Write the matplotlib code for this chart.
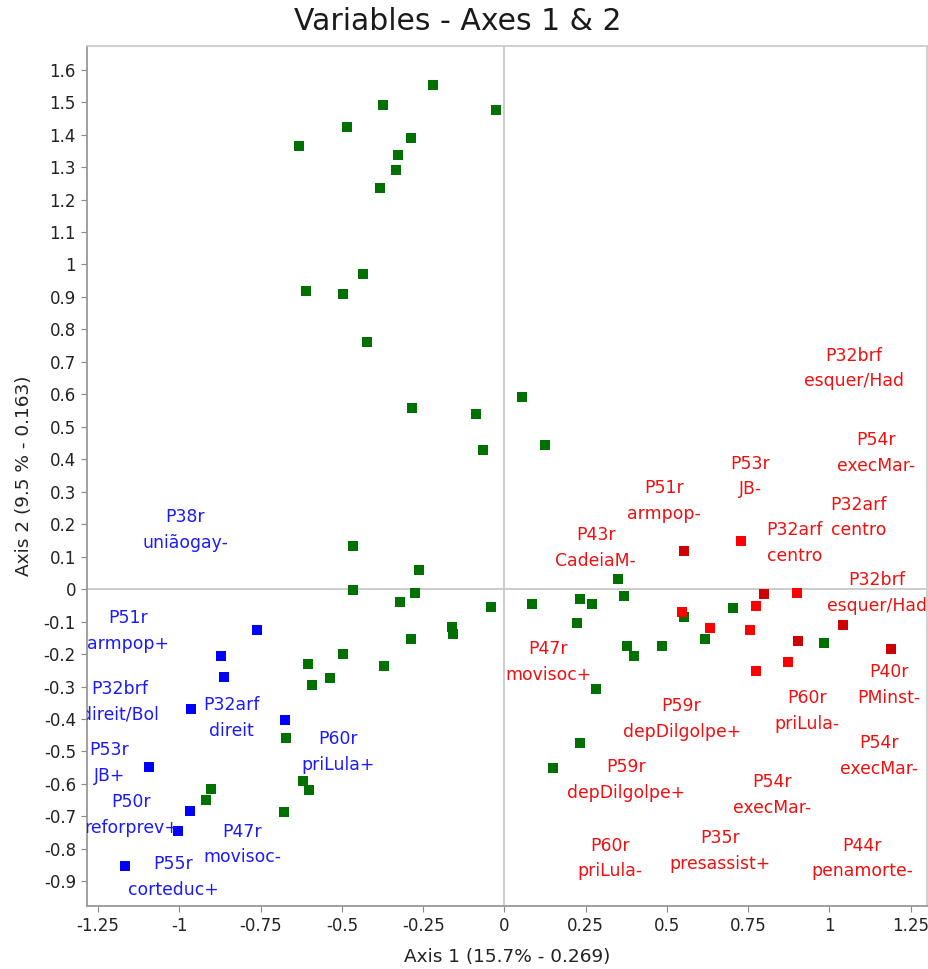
import matplotlib
matplotlib.use('Agg')
import matplotlib.pyplot as plt

# pontos verdes (variaveis sem rotulo)
verde_x = [-0.220, -0.374, -0.026, -0.483, -0.287, -0.633, -0.328, -0.333, -0.382,
           -0.435, -0.609, -0.498, -0.422, 0.054, -0.283, -0.087, -0.066, 0.126,
           -0.465, -0.263, -0.466, -0.274, -0.320, -0.162, -0.159, -0.287, -0.497,
           -0.604, -0.369, -0.537, -0.592, -0.673, -0.902, -0.919, -0.620, -0.602,
           -0.679, 0.348, -0.040, 0.086, 0.233, 0.269, 0.369, 0.223, 0.553, 0.703,
           0.377, 0.399, 0.485, 0.617, 0.982, 0.283, 0.232, 0.151]
verde_y = [1.553, 1.491, 1.477, 1.425, 1.390, 1.365, 1.337, 1.290, 1.236,
           0.972, 0.918, 0.910, 0.760, 0.591, 0.558, 0.541, 0.430, 0.443,
           0.132, 0.059, -0.003, -0.012, -0.040, -0.117, -0.139, -0.155, -0.199,
           -0.231, -0.237, -0.274, -0.294, -0.457, -0.616, -0.648, -0.591, -0.619,
           -0.686, 0.032, -0.054, -0.047, -0.029, -0.047, -0.021, -0.104, -0.087, -0.058,
           -0.176, -0.206, -0.174, -0.154, -0.166, -0.308, -0.475, -0.552]

# pontos azuis
azul_x = [-0.762, -0.873, -0.862, -0.964, -0.674, -1.092, -0.967, -1.004, -1.168]
azul_y = [-0.127, -0.206, -0.272, -0.368, -0.402, -0.549, -0.684, -0.745, -0.852]

# pontos vermelhos (escuros e claros)
verm_esc_x = [0.552, 0.799, 1.042, 0.904, 1.188]
verm_esc_y = [0.119, -0.015, -0.109, -0.160, -0.185]
verm_cla_x = [0.729, 0.901, 0.773, 0.546, 0.632, 0.755, 0.872, 0.774]
verm_cla_y = [0.147, -0.013, -0.052, -0.071, -0.121, -0.125, -0.225, -0.252]

# rotulos
rot_azul = ['P38r\nuniãogay-', 'P51r\narmpop+', 'P32brf\ndireit/Bol', 'P53r\nJB+',
            'P50r\nreforprev+', 'P55r\ncorteduc+', 'P47r\nmovisoc-', 'P32arf\ndireit',
            'P60r\npriLula+']
rot_azul_x = [-0.982, -1.159, -1.183, -1.215, -1.147, -1.018, -0.806, -0.841, -0.512]
rot_azul_y = [0.182, -0.128, -0.347, -0.535, -0.695, -0.886, -0.787, -0.397, -0.502]

rot_verm = ['P32brf\nesquer/Had', 'P54r\nexecMar-', 'P53r\nJB-', 'P51r\narmpop-',
            'P32arf\ncentro', 'P32arf\ncentro', 'P43r\nCadeiaM-', 'P32brf\nesquer/Had',
            'P47r\nmovisoc+', 'P59r\ndepDilgolpe+', 'P60r\npriLula-', 'P40r\nPMinst-',
            'P54r\nexecMar-', 'P59r\ndepDilgolpe+', 'P54r\nexecMar-', 'P60r\npriLula-',
            'P35r\npresassist+', 'P44r\npenamorte-']
rot_verm_x = [1.076, 1.142, 0.756, 0.492, 1.089, 0.892, 0.281, 1.146, 0.135, 0.545,
              0.930, 1.182, 1.154, 0.375, 0.824, 0.325, 0.663, 1.100]
rot_verm_y = [0.680, 0.419, 0.347, 0.271, 0.221, 0.143, 0.127, -0.012, -0.224, -0.401,
              -0.376, -0.296, -0.515, -0.588, -0.634, -0.830, -0.807, -0.830]

xticks = [-1.25, -1, -0.75, -0.5, -0.25, 0, 0.25, 0.5, 0.75, 1, 1.25]
xtick_labels = ['-1.25', '-1', '-0.75', '-0.5', '-0.25', '0', '0.25', '0.5', '0.75', '1', '1.25']
yticks = [-0.9, -0.8, -0.7, -0.6, -0.5, -0.4, -0.3, -0.2, -0.1, 0, 0.1, 0.2, 0.3, 0.4,
          0.5, 0.6, 0.7, 0.8, 0.9, 1, 1.1, 1.2, 1.3, 1.4, 1.5, 1.6]
ytick_labels = ['-0.9', '-0.8', '-0.7', '-0.6', '-0.5', '-0.4', '-0.3', '-0.2', '-0.1', '0',
                '0.1', '0.2', '0.3', '0.4', '0.5', '0.6', '0.7', '0.8', '0.9', '1',
                '1.1', '1.2', '1.3', '1.4', '1.5', '1.6']

plt.rcParams['font.family'] = ['DejaVu Sans']

fig = plt.figure(figsize=(9.29, 9.69), dpi=100)
ax = fig.add_axes([87 / 929, 1 - 906 / 969, 840 / 929, 860 / 969])

ax.axhline(0, color='#c8c8c8', lw=1.3, zorder=1)
ax.axvline(0, color='#c8c8c8', lw=1.3, zorder=1)

ax.scatter(verde_x, verde_y, marker='s', s=62, color='#007000', linewidths=0, zorder=3)
ax.scatter(azul_x, azul_y, marker='s', s=62, color='#0000ff', linewidths=0, zorder=3)
ax.scatter(verm_esc_x, verm_esc_y, marker='s', s=62, color='#cc0000', linewidths=0, zorder=3)
ax.scatter(verm_cla_x, verm_cla_y, marker='s', s=62, color='#ff0000', linewidths=0, zorder=3)

for t, x, y in zip(rot_azul, rot_azul_x, rot_azul_y):
    ax.text(x, y, t, color='#1a1aff', fontsize=12.4, ha='center', va='center',
            linespacing=1.55, zorder=4, clip_on=True)
for t, x, y in zip(rot_verm, rot_verm_x, rot_verm_y):
    ax.text(x, y, t, color='#f01010', fontsize=12.4, ha='center', va='center',
            linespacing=1.55, zorder=4, clip_on=True)

ax.set_xlim(-1.284, 1.30)
ax.set_ylim(-0.976, 1.673)
ax.set_xticks(xticks)
ax.set_xticklabels(xtick_labels)
ax.set_yticks(yticks)
ax.set_yticklabels(ytick_labels)
ax.tick_params(direction='out', length=4, color='#888888', labelsize=12,
               labelcolor='#222222', pad=4)

for lado in ['left', 'bottom']:
    ax.spines[lado].set_color('#999999')
    ax.spines[lado].set_linewidth(1.3)
for lado in ['top', 'right']:
    ax.spines[lado].set_color('#cccccc')
    ax.spines[lado].set_linewidth(1.3)

ax.set_xlabel('Axis 1 (15.7% - 0.269)', fontsize=13.3, color='#222222', labelpad=9)
ax.set_ylabel('Axis 2 (9.5 % - 0.163)', fontsize=13.3, color='#222222', labelpad=8)
fig.suptitle('Variables - Axes 1 & 2', x=0.493, y=0.993, fontsize=21.5, color='#1a1a1a')

fig.savefig('out.png', dpi=100)
